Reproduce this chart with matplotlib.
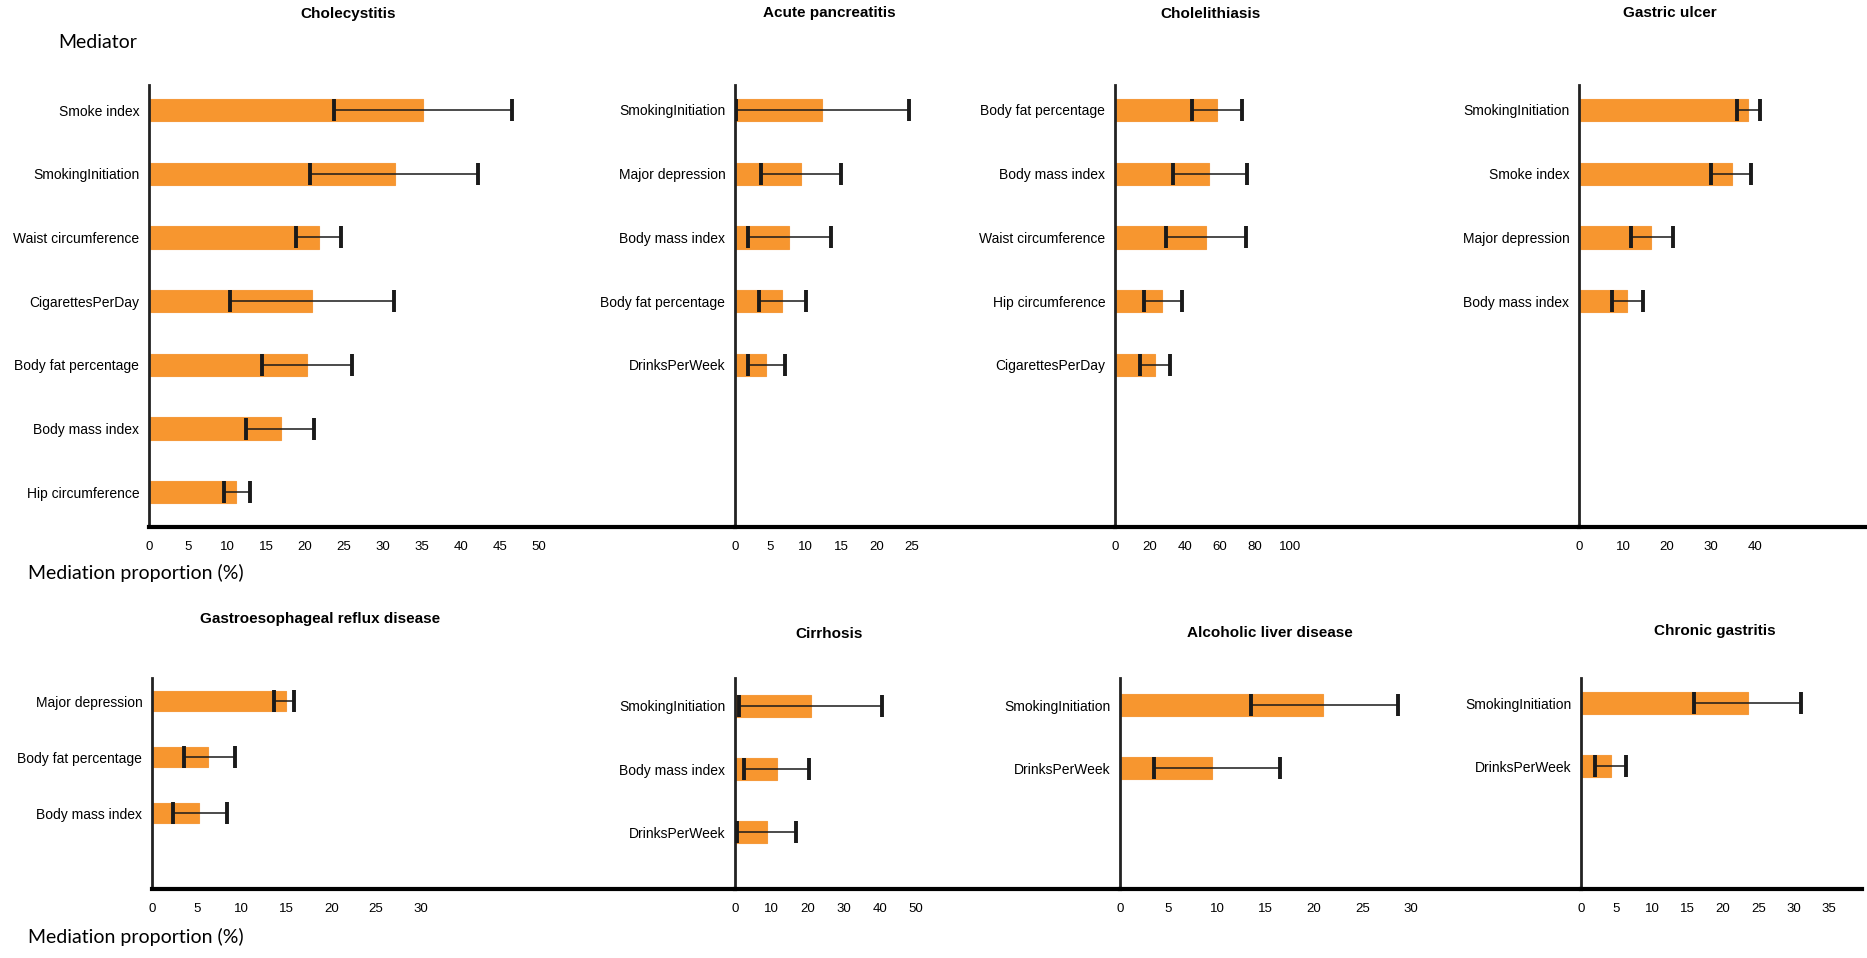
import matplotlib.pyplot as plt
import numpy as np

# Datos: mediadores, proporcion mediada (%) e intervalo
titles = ["Cholecystitis", "Acute pancreatitis", "Cholelithiasis", "Gastric ulcer",
          "Gastroesophageal reflux disease", "Cirrhosis", "Alcoholic liver disease",
          "Chronic gastritis"]

cholecystitis_med = ["Smoke index", "SmokingInitiation", "Waist circumference",
                     "CigarettesPerDay", "Body fat percentage", "Body mass index",
                     "Hip circumference"]
cholecystitis_prop = [35.1, 31.5, 21.8, 20.9, 20.2, 16.9, 11.2]
cholecystitis_low = [23.7, 20.6, 18.9, 10.4, 14.5, 12.4, 9.6]
cholecystitis_high = [46.5, 42.2, 24.6, 31.4, 26.0, 21.2, 13.0]

pancreatitis_med = ["SmokingInitiation", "Major depression", "Body mass index",
                    "Body fat percentage", "DrinksPerWeek"]
pancreatitis_prop = [12.3, 9.3, 7.7, 6.7, 4.4]
pancreatitis_low = [0.2, 3.7, 1.8, 3.4, 1.8]
pancreatitis_high = [24.6, 15.0, 13.6, 10.0, 7.1]

cholelithiasis_med = ["Body fat percentage", "Body mass index", "Waist circumference",
                      "Hip circumference", "CigarettesPerDay"]
cholelithiasis_prop = [58.1, 53.7, 51.8, 27.0, 22.9]
cholelithiasis_low = [44.0, 32.9, 28.9, 16.7, 14.3]
cholelithiasis_high = [72.3, 75.4, 74.8, 38.1, 31.4]

ulcer_med = ["SmokingInitiation", "Smoke index", "Major depression", "Body mass index"]
ulcer_prop = [38.4, 34.7, 16.3, 10.8]
ulcer_low = [35.9, 30.1, 11.8, 7.4]
ulcer_high = [41.1, 39.2, 21.3, 14.5]

gerd_med = ["Major depression", "Body fat percentage", "Body mass index"]
gerd_prop = [14.9, 6.3, 5.3]
gerd_low = [13.6, 3.6, 2.3]
gerd_high = [15.9, 9.3, 8.4]

cirrhosis_med = ["SmokingInitiation", "Body mass index", "DrinksPerWeek"]
cirrhosis_prop = [21.1, 11.5, 8.8]
cirrhosis_low = [1.0, 2.6, 0.6]
cirrhosis_high = [40.7, 20.4, 16.8]

ald_med = ["SmokingInitiation", "DrinksPerWeek"]
ald_prop = [20.9, 9.5]
ald_low = [13.5, 3.5]
ald_high = [28.7, 16.5]

gastritis_med = ["SmokingInitiation", "DrinksPerWeek"]
gastritis_prop = [23.5, 4.2]
gastritis_low = [16.0, 2.0]
gastritis_high = [31.1, 6.4]

xticks_list = [np.arange(0, 51, 5), np.arange(0, 26, 5), np.arange(0, 101, 20),
               np.arange(0, 41, 10), np.arange(0, 31, 5), np.arange(0, 51, 10),
               np.arange(0, 31, 5), np.arange(0, 36, 5)]

paneles = [
    (cholecystitis_med, cholecystitis_prop, cholecystitis_low, cholecystitis_high),
    (pancreatitis_med, pancreatitis_prop, pancreatitis_low, pancreatitis_high),
    (cholelithiasis_med, cholelithiasis_prop, cholelithiasis_low, cholelithiasis_high),
    (ulcer_med, ulcer_prop, ulcer_low, ulcer_high),
    (gerd_med, gerd_prop, gerd_low, gerd_high),
    (cirrhosis_med, cirrhosis_prop, cirrhosis_low, cirrhosis_high),
    (ald_med, ald_prop, ald_low, ald_high),
    (gastritis_med, gastritis_prop, gastritis_low, gastritis_high),
]

# Geometria en pixeles (x del eje, x siguiente, pixeles por unidad, y sup, y inf, primera fila, paso)
W, H = 1867, 958
layout = [
    (149, 735, 7.80, 85, 527, 110, 63.7),
    (735, 1115, 7.06, 85, 527, 110, 63.7),
    (1115, 1579, 1.75, 85, 527, 110, 63.7),
    (1579, 1867, 4.40, 85, 527, 110, 63.7),
    (152, 735, 8.96, 678, 889, 701, 56.0),
    (735, 1120, 3.62, 678, 889, 706, 63.0),
    (1120, 1581, 9.70, 678, 889, 705, 63.0),
    (1581, 1862, 7.09, 678, 889, 703, 63.0),
]
title_pos = [(348, 14), (829, 13), (1210, 14), (1670, 13),
             (320, 619), (829, 634), (1270, 633), (1715, 631)]

naranja = '#F7962F'

fig = plt.figure(figsize=(W / 100, H / 100), dpi=100)

for k, (med, prop, low, high) in enumerate(paneles):
    x0, x1, ppu, ytop, ybot, yfirst, paso = layout[k]
    ax = fig.add_axes([x0 / W, 1 - ybot / H, (x1 - x0) / W, (ybot - ytop) / H])
    prop = np.array(prop)
    y = np.arange(len(med))
    ax.barh(y, prop, height=0.35, color=naranja, edgecolor='#F59A3C', linewidth=0.8, zorder=2)
    ax.errorbar(prop, y, xerr=[prop - np.array(low), np.array(high) - prop], fmt='none',
                ecolor='#1a1a1a', elinewidth=1.1, capsize=8, capthick=2.8, zorder=3)
    ax.set_xlim(0, (x1 - x0) / ppu)
    ax.set_ylim((ybot - yfirst) / paso, -(yfirst - ytop) / paso)
    ax.set_yticks(y)
    ax.set_yticklabels(med, fontsize=10, family='Liberation Sans')
    ax.set_xticks(xticks_list[k])
    ax.set_xticklabels([str(v) for v in xticks_list[k]], fontsize=9.5, family='Liberation Sans')
    ax.tick_params(axis='both', length=0)
    ax.tick_params(axis='y', pad=7)
    ax.tick_params(axis='x', pad=10)
    ax.spines['top'].set_visible(False)
    ax.spines['right'].set_visible(False)
    ax.spines['left'].set_linewidth(2.0)
    ax.spines['left'].set_color('#222222')
    ax.spines['bottom'].set_linewidth(3.0)
    ax.spines['bottom'].set_color('black')
    ax.patch.set_alpha(0)
    tx, ty = title_pos[k]
    fig.text(tx / W, 1 - ty / H, titles[k], ha='center', va='center', fontsize=11,
             fontweight='bold', family='Liberation Sans')

fig.text(58 / W, 1 - 43 / H, "Mediator", ha='left', va='center', fontsize=14, family='Lato')
fig.text(28 / W, 1 - 573 / H, "Mediation proportion (%)", ha='left', va='center', fontsize=14, family='Lato')
fig.text(28 / W, 1 - 937 / H, "Mediation proportion (%)", ha='left', va='center', fontsize=14, family='Lato')

fig.savefig('out.png', dpi=100, facecolor='white')
